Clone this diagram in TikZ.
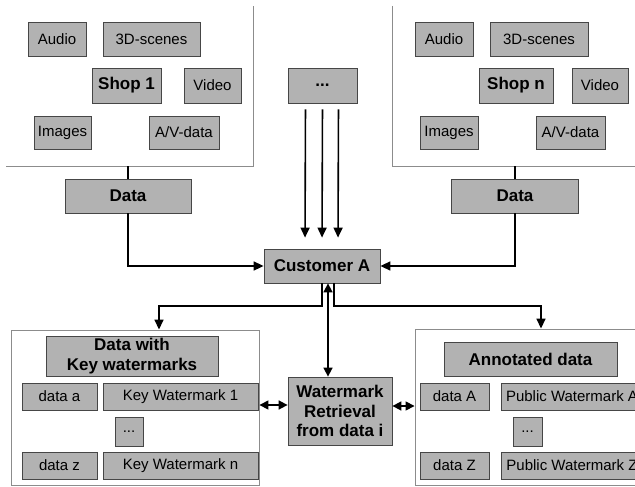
\documentclass[tikz,border=0pt]{standalone}
\usepackage{fontspec}
\setmainfont{Liberation Sans}
\usetikzlibrary{arrows.meta}
\definecolor{boxgray}{RGB}{178,178,178}
\definecolor{edgegray}{RGB}{70,70,70}
\definecolor{framegray}{RGB}{140,140,140}
\tikzset{
  box/.style={draw=edgegray, fill=boxgray, rectangle, align=center, inner sep=0pt, line width=0.8pt, font=\fontsize{15}{18}\selectfont},
  hbox/.style={box, font=\fontsize{17}{19.5}\selectfont\bfseries},
  frm/.style={draw=framegray, line width=0.9pt},
  ln/.style={line width=1.6pt},
  arr/.style={-{Triangle[length=10pt,width=9pt]}, line width=1.6pt},
  darr/.style={{Triangle[length=9pt,width=9pt]}-{Triangle[length=9pt,width=9pt]}, line width=1.6pt},
}
\begin{document}
\begin{tikzpicture}[x=1pt,y=-1pt]
\clip (0,0) rectangle (635,487);
% shop 1
\draw[frm] (6,166) -| (253,6);
\coordinate (f1) at (6,166);
\node[box, minimum width=58, minimum height=34] (audio1) at (57,39) {Audio};
\node[box, minimum width=97, minimum height=34] (scenes1) at (151.5,39) {3D-scenes};
\node[hbox, minimum width=69, minimum height=35] (shop1) at (126.5,85.5) {Shop 1};
\node[box, minimum width=57, minimum height=35] (video1) at (212.5,85.5) {Video};
\node[box, minimum width=57, minimum height=33] (images1) at (62.5,132.5) {Images};
\node[box, minimum width=70, minimum height=33] (avdata1) at (184,132.5) {A/V-data};
\node[hbox, minimum width=126, minimum height=34] (data1) at (128,196) {Data};
\draw[ln] (data1.north) -- (data1.north |- f1);
% shop n
\draw[frm] (392,6) |- (640,166);
\coordinate (f2) at (640,166);
\node[box, minimum width=58, minimum height=34] (audio2) at (444,39) {Audio};
\node[box, minimum width=98, minimum height=34] (scenes2) at (539,39) {3D-scenes};
\node[hbox, minimum width=74, minimum height=35] (shopn) at (516,85.5) {Shop n};
\node[box, minimum width=56, minimum height=35] (video2) at (600,85.5) {Video};
\node[box, minimum width=58, minimum height=33] (images2) at (449,132.5) {Images};
\node[box, minimum width=69, minimum height=33] (avdata2) at (570.5,132.5) {A/V-data};
\node[hbox, minimum width=127, minimum height=34] (data2) at (515,196) {Data};
\draw[ln] (data2.north) -- (data2.north |- f2);
% other shops and the customer
\node[hbox, minimum width=69, minimum height=35] (dots) at (322.5,85.5) {...};
\node[hbox, minimum width=116, minimum height=34] (cust) at (322,266) {Customer A};
\foreach \dx in {-17,0,16}
  \draw[arr, shorten <=6pt, shorten >=11pt] ([xshift=\dx pt]dots.south) -- ([xshift=\dx pt]cust.north);
\draw[arr] (data1.south) |- (cust.west);
\draw[arr] (data2.south) |- (cust.east);
% key watermarks
\node[frm, rectangle, minimum width=248, minimum height=155] (keyfrm) at (135,407.5) {};
\node[hbox, minimum width=172, minimum height=40] (keyhead) at (132,356) {Data with\\Key watermarks};
\node[box, minimum width=75, minimum height=27] (dataa) at (59.5,396.5) {data a};
\node[box, minimum width=155, minimum height=27] (keywm1) at (180.5,396.5) {Key Watermark 1};
\node[box, minimum width=28, minimum height=29] (keydots) at (129,431.5) {...};
\node[box, minimum width=75, minimum height=27] (dataz) at (59.5,465.5) {data z};
\node[box, minimum width=155, minimum height=27] (keywmn) at (180.5,465.5) {Key Watermark n};
% public watermarks
\node[frm, rectangle, minimum width=285, minimum height=156] (annfrm) at (557.5,407) {};
\node[hbox, minimum width=173, minimum height=34] (annhead) at (530.5,359) {Annotated data};
\node[box, minimum width=69, minimum height=27] (dataA) at (454.5,396.5) {data A};
\node[box, minimum width=142, minimum height=27] (pubwmA) at (572,396.5) {Public Watermark A};
\node[box, minimum width=29, minimum height=29] (anndots) at (527.5,431.5) {...};
\node[box, minimum width=69, minimum height=27] (dataZ) at (454.5,465.5) {data Z};
\node[box, minimum width=142, minimum height=27] (pubwmZ) at (572,465.5) {Public Watermark Z};
% retrieval
\node[hbox, minimum width=104, minimum height=68] (wmr) at (340,411) {Watermark\\Retrieval\\from data i};
\coordinate (lj) at (159,306);
\coordinate (rj) at (541,306);
\coordinate (mtop) at ([xshift=6pt]cust.south);
\draw[arr] (cust.south) |- (lj) -- (lj |- keyfrm.north);
\draw[arr] ([xshift=12pt]cust.south) |- (rj) -- (rj |- annfrm.north);
\draw[darr] (mtop) -- (mtop |- wmr.north);
\coordinate (wl) at ([yshift=6pt]wmr.west);
\coordinate (wr) at ([yshift=5pt]wmr.east);
\draw[darr] (wl) -- (wl -| keyfrm.east);
\draw[darr] (wr) -- (wr -| annfrm.west);
\end{tikzpicture}
\end{document}
